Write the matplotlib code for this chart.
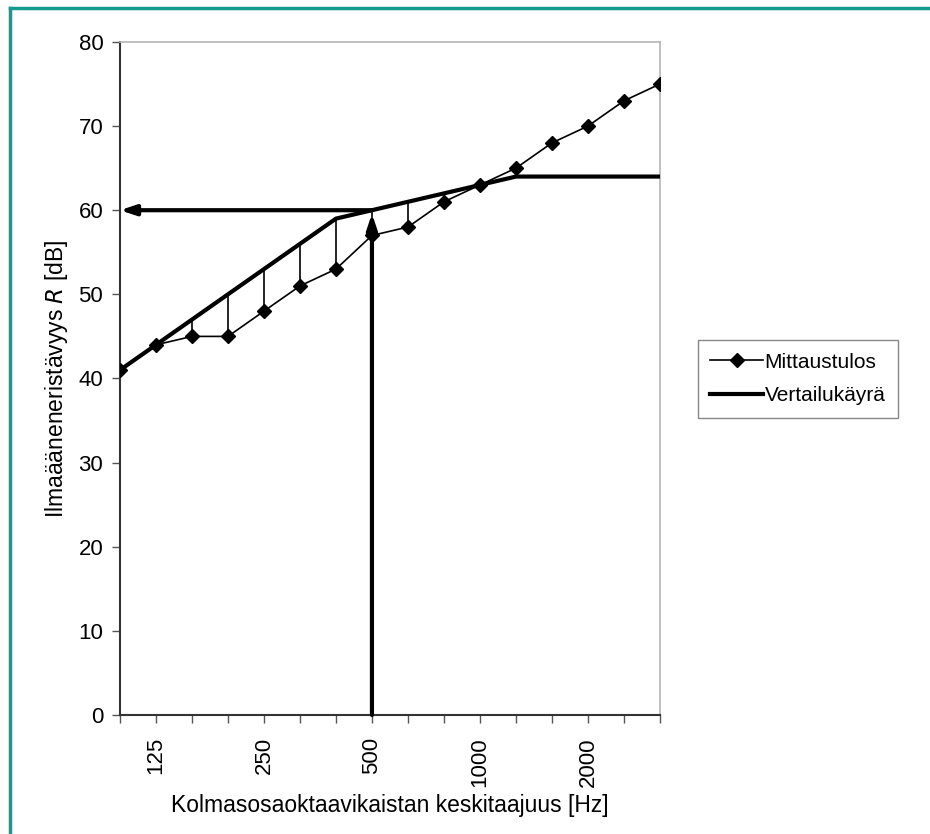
import matplotlib.pyplot as plt
from matplotlib.lines import Line2D

plt.rcParams['font.family'] = ['Liberation Sans', 'DejaVu Sans']

# Third-octave bands and values
bands = ['100', '125', '160', '200', '250', '315', '400', '500',
         '630', '800', '1000', '1250', '1600', '2000', '2500', '3150']
measured = [41, 44, 45, 45, 48, 51, 53, 57, 58, 61, 63, 65, 68, 70, 73, 75]
reference = [41, 44, 47, 50, 53, 56, 59, 60, 61, 62, 63, 64, 64, 64, 64, 64]
labelled = ['125', '250', '500', '1000', '2000']
rw_value = 60
rw_band = '500'

x = list(range(len(bands)))
fig = plt.figure(figsize=(9.3, 8.34), dpi=100)
ax = fig.add_axes([0.129, 0.1427, 0.5806, 0.807])

# deficiency lines between measured and reference
for xi, m, r in zip(x, measured, reference):
    if m < r:
        ax.plot([xi, xi], [m, r], color='black', lw=1.2, zorder=2)

ax.plot(x, measured, color='black', lw=1.2, marker='D', markersize=7,
        label='Mittaustulos', zorder=3)
ax.plot(x, reference, color='black', lw=3, label='Vertailukäyrä', zorder=3)

# arrows marking the single number value
xr = bands.index(rw_band)
arrow = dict(arrowstyle='-|>,head_length=0.9,head_width=0.3', lw=3,
             color='black', shrinkA=0, shrinkB=0)
ax.annotate('', xy=(0, rw_value), xytext=(xr, rw_value), arrowprops=arrow)
ax.annotate('', xy=(xr, rw_value - 0.4), xytext=(xr, 0), arrowprops=arrow)

ax.set_xlim(0, len(bands) - 1)
ax.set_ylim(0, 80)
ax.set_yticks(range(0, 81, 10))
ax.set_xticks(x)
ax.set_xticklabels([b if b in labelled else '' for b in bands], rotation=90)
ax.tick_params(axis='both', direction='out', length=6, width=1,
               color='#555555', labelsize=16, pad=6)
ax.tick_params(axis='x', pad=10)

for s in ['left', 'bottom']:
    ax.spines[s].set_color('#333333')
    ax.spines[s].set_linewidth(1.5)
for s in ['top', 'right']:
    ax.spines[s].set_color('#b5b5b5')
    ax.spines[s].set_linewidth(1.2)

ax.set_xlabel('Kolmasosaoktaavikaistan keskitaajuus [Hz]', fontsize=16.5, labelpad=5)
ax.set_ylabel('Ilmaääneneristävyys $R$ [dB]', fontsize=16.5, labelpad=6)

ax.legend(loc='upper left', bbox_to_anchor=(0.7505, 0.592),
          bbox_transform=fig.transFigure, fancybox=False, edgecolor='#888888',
          fontsize=15, handlelength=2.5, handletextpad=0.1, borderpad=0.6,
          labelspacing=0.7, framealpha=1, borderaxespad=0)

# teal frame around the figure (left and top edges visible)
teal = '#16998e'
fig.add_artist(Line2D([0.0108, 0.0108], [0.0, 0.991], color=teal, lw=2.5,
                      transform=fig.transFigure))
fig.add_artist(Line2D([0.0108, 1.0], [0.991, 0.991], color=teal, lw=2.5,
                      transform=fig.transFigure))

fig.savefig('out.png', dpi=100)
